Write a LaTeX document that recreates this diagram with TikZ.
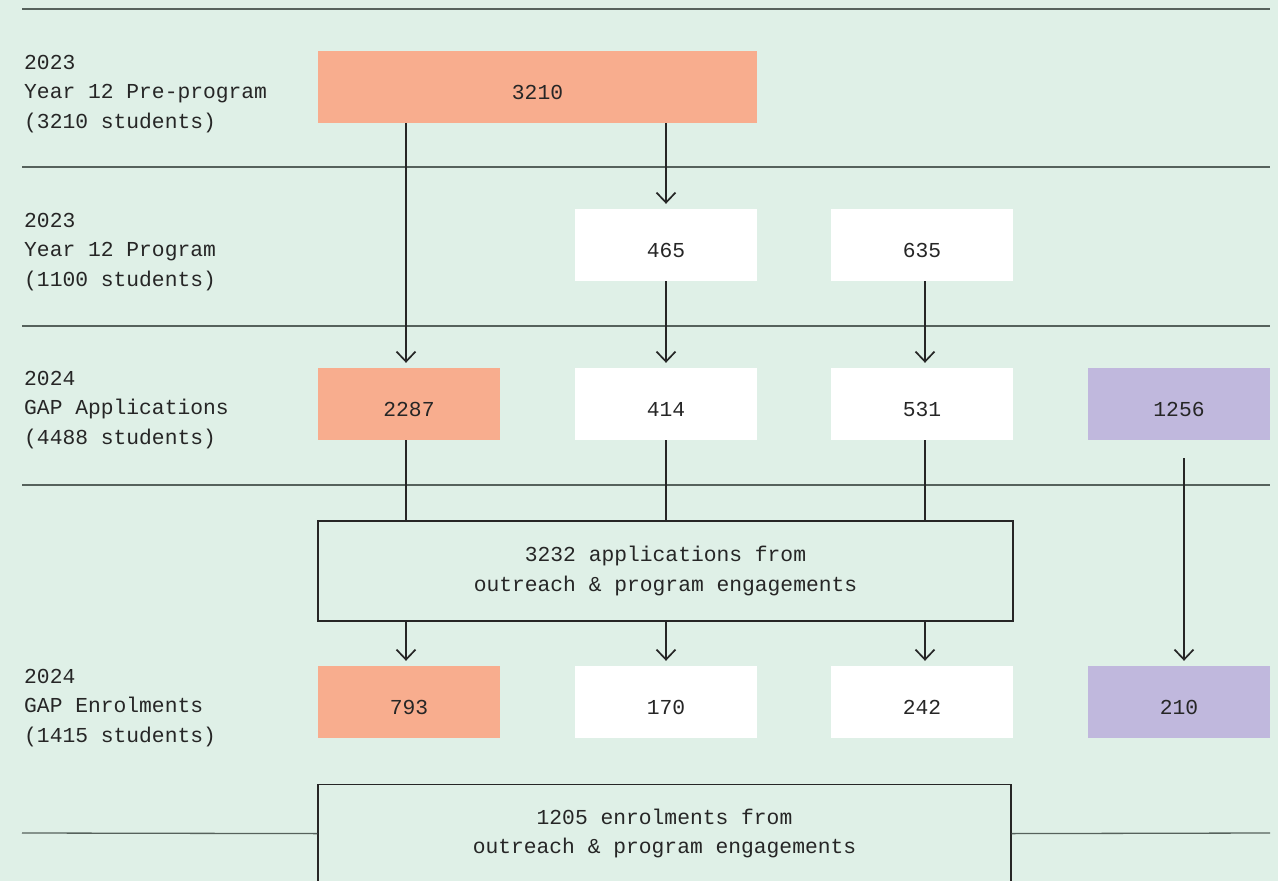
\documentclass[tikz,border=0pt]{standalone}
\usepackage{fontspec}
\setmonofont{Liberation Mono}
\usetikzlibrary{arrows.meta}
\definecolor{bgmint}{HTML}{DFF0E7}
\definecolor{salmon}{HTML}{F8AD8E}
\definecolor{lilac}{HTML}{C0B8DD}
\definecolor{rulegray}{HTML}{56625C}
\definecolor{ink}{HTML}{262626}
\tikzset{
  cell/.style={minimum width=182pt, minimum height=72pt, inner sep=0pt, text height=24pt, text depth=0pt},
  pale/.style={cell, fill=white},
  orange/.style={cell, fill=salmon},
  purple/.style={cell, fill=lilac},
  sumbox/.style={draw=ink, line width=1.2pt, align=center, inner sep=0pt, minimum width=695pt},
  year/.style={anchor=west, align=left, inner sep=0pt},
  link/.style={line width=1.7pt, draw=ink},
  sep/.style={line width=1.3pt, draw=rulegray}
}

\begin{document}
\begin{tikzpicture}[x=1pt,y=-1pt,>={Straight Barb[length=10pt,width=19pt]},
    font=\ttfamily\fontsize{21.3}{29.5}\selectfont, text=ink]
  \useasboundingbox (0,0) rectangle (1278,881);
  \fill[bgmint] (0,0) rectangle (1278,881);
  \clip (0,0) rectangle (1278,881);

  % row rules
  \draw[sep] (22,9) -- (1270,9);
  \draw[sep] (22,167) -- (1270,167);
  \draw[sep] (22,326) -- (1270,326);
  \draw[sep] (22,485) -- (1270,485);

  % row labels
  \node[year] (L1) at (24,94) {2023\\Year 12 Pre-program\\(3210 students)};
  \node[year] (L2) at (24,252) {2023\\Year 12 Program\\(1100 students)};
  \node[year] (L3) at (24,410) {2024\\GAP Applications\\(4488 students)};
  \node[year] (L5) at (24,708) {2024\\GAP Enrolments\\(1415 students)};

  % boxes
  \node[orange, minimum width=439pt] (pre) at (537.5,87) {3210};
  \node[pale] (p465) at (666,245) {465};
  \node[pale] (p635) at (922,245) {635};
  \node[orange] (a2287) at (409,404) {2287};
  \node[pale] (a414) at (666,404) {414};
  \node[pale] (a531) at (922,404) {531};
  \node[purple] (a1256) at (1179,404) {1256};
  \node[sumbox, minimum height=100pt] (apps) at (665.5,571)
    {3232 applications from\\outreach \& program engagements};
  \node[orange] (e793) at (409,702) {793};
  \node[pale] (e170) at (666,702) {170};
  \node[pale] (e242) at (922,702) {242};
  \node[purple] (e210) at (1179,702) {210};
  \node[sumbox, anchor=north, minimum width=693pt, minimum height=98pt] (enr) at (664.5,784)
    {1205 enrolments from\\outreach \& program engagements};

  \draw[sep] (22,833) -- (enr.west);
  \draw[sep] (enr.east) -- (1270,833);

  % columns
  \coordinate (c1) at (406,0);
  \coordinate (c2) at (666,0);
  \coordinate (c3) at (925,0);
  \coordinate (c4) at (1184,0);

  \draw[link,->,shorten >=5pt] (pre.south -| c1) -- (a2287.north -| c1);
  \draw[link,->,shorten >=5pt] (pre.south -| c2) -- (p465.north -| c2);
  \draw[link,->,shorten >=5pt] (p465.south -| c2) -- (a414.north -| c2);
  \draw[link,->,shorten >=5pt] (p635.south -| c3) -- (a531.north -| c3);
  \draw[link] (a2287.south -| c1) -- (apps.north -| c1);
  \draw[link] (a414.south -| c2) -- (apps.north -| c2);
  \draw[link] (a531.south -| c3) -- (apps.north -| c3);
  \draw[link,->,shorten >=5pt] (apps.south -| c1) -- (e793.north -| c1);
  \draw[link,->,shorten >=5pt] (apps.south -| c2) -- (e170.north -| c2);
  \draw[link,->,shorten >=5pt] (apps.south -| c3) -- (e242.north -| c3);
  \draw[link,->,shorten <=18pt,shorten >=5pt] (a1256.south -| c4) -- (e210.north -| c4);
\end{tikzpicture}
\end{document}
